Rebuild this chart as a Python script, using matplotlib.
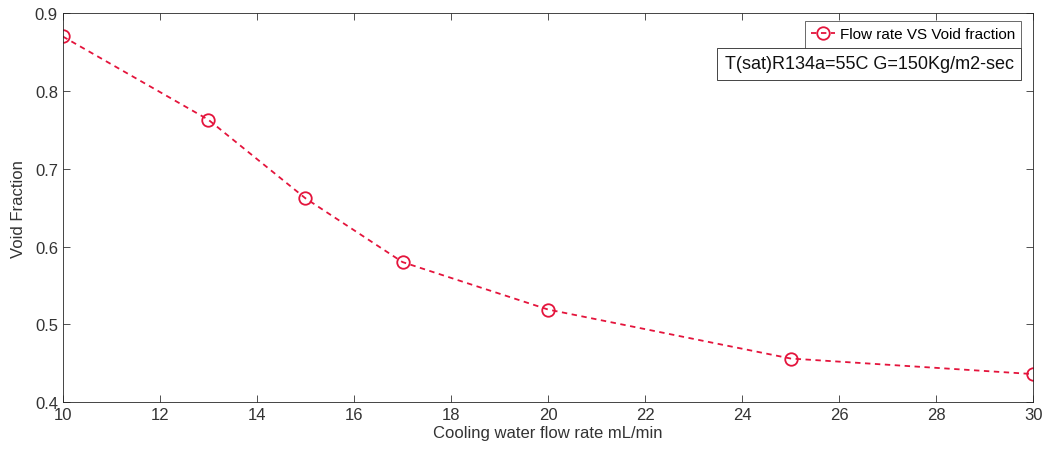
import matplotlib.pyplot as plt

plt.rcParams.update({
    "font.family": ["Liberation Sans", "DejaVu Sans"],
    "font.size": 11,
    "axes.linewidth": 0.6,
})

RED = "#e4143c"

flow_rate = [10, 13, 15, 17, 20, 25, 30]
void_fraction = [0.870, 0.763, 0.662, 0.580, 0.519, 0.456, 0.436]

fig = plt.figure(figsize=(10.46, 4.56), dpi=100)
ax = fig.add_axes([0.060, 0.116, 0.928, 0.853])

ax.plot(flow_rate, void_fraction, color=RED, linestyle="--", linewidth=1.3,
        dashes=(3, 2.5), marker="o", markersize=9, markerfacecolor="none",
        markeredgewidth=1.3, label="Flow rate VS Void fraction")

ax.set_xlim(10, 30)
ax.set_ylim(0.4, 0.9)
ax.set_xticks(range(10, 31, 2))
ax.set_yticks([0.4, 0.5, 0.6, 0.7, 0.8, 0.9])
ax.set_yticklabels(["0.4", "0.5", "0.6", "0.7", "0.8", "0.9"])
ax.tick_params(direction="in", top=True, right=True, length=5, width=0.6,
               labelsize=12, colors="#333333")
for s in ax.spines.values():
    s.set_color("#262626")
ax.set_xlabel("Cooling water flow rate mL/min", fontsize=12, color="#333333", labelpad=2)
ax.set_ylabel("Void Fraction", fontsize=12, color="#333333", labelpad=6)

leg = ax.legend(loc="upper right", bbox_to_anchor=(0.9876, 0.979), fontsize=11,
                frameon=True, fancybox=False, edgecolor="#262626",
                handlelength=1.6, handletextpad=0.3, borderpad=0.4,
                borderaxespad=0)
leg.get_frame().set_linewidth(0.6)

ax.text(0.9795, 0.892, "T(sat)R134a=55C G=150Kg/m2-sec", transform=ax.transAxes,
        ha="right", va="top", fontsize=13, color="#111111",
        bbox=dict(boxstyle="square,pad=0.42", facecolor="white",
                  edgecolor="#262626", linewidth=0.6))

fig.savefig("out.png", dpi=100)
